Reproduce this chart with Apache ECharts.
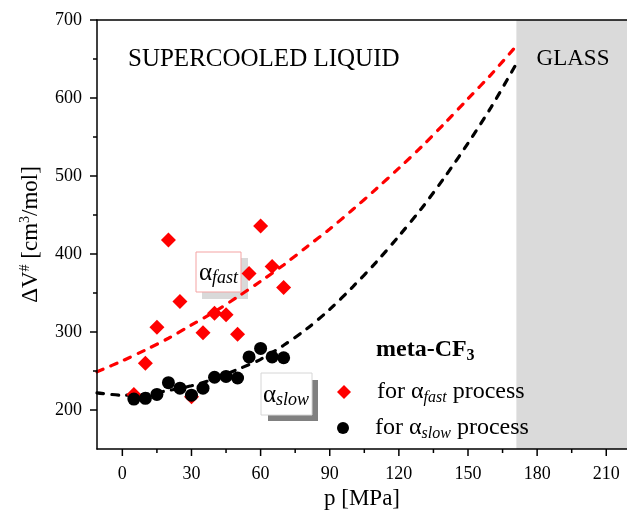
<!DOCTYPE html>
<html>
<head>
<meta charset="utf-8">
<script src="https://cdn.jsdelivr.net/npm/echarts@6/dist/echarts.min.js"></script>
<style>
  html, body { margin: 0; padding: 0; background: #fff; }
  #chart { width: 627px; height: 517px; }
</style>
</head>
<body>
<div id="chart"></div>
<script>
// Activation volume vs pressure, meta-CF3
const pressure = [5, 10, 15, 20, 25, 30, 35, 40, 45, 50, 55, 60, 65, 70];
const dvFast = [220, 260, 306, 418, 339, 217, 299, 324, 322, 297, 375, 436, 384, 357];
const dvSlow = [214, 215, 220, 235, 228, 219, 228, 242, 243, 241, 268, 279, 268, 267];

// Fitted curves (dashed), read along the pressure range
const fitP    = [-11, 0, 10, 20, 30, 40, 50, 60, 70, 80, 90, 100, 110, 120, 130, 140, 150, 160, 171];
const fitFast = [249, 263, 277, 292, 309, 326, 345, 365, 386, 409, 432, 457, 483, 510, 538, 568, 599, 630, 667];
const fitSlow = [222, 219, 220, 225, 231, 240, 252, 265, 283, 304, 329, 358, 389, 423, 459, 499, 542, 588, 644];

// Axis ticks
const xLabels = [0, 30, 60, 90, 120, 150, 180, 210];
const xMinor  = [15, 45, 75, 105, 135, 165, 195];
const yLabels = [200, 300, 400, 500, 600, 700];
const yMinor  = [250, 350, 450, 550, 650];

// Glassy region starts here (MPa)
const glassFrom = 171;

const SERIF = '"Liberation Serif", "Times New Roman", serif';
const X_MIN = -11, X_MAX = 219, Y_MIN = 150, Y_MAX = 700;
const MAJOR = 7, MINOR = 4;

const pairs = (xs, ys) => xs.map((x, i) => [x, ys[i]]);

const axisLine = { show: true, onZero: false, lineStyle: { color: '#000', width: 1.5 } };

const chart = echarts.init(document.getElementById('chart'), null, { renderer: 'canvas' });

const subRich = {
  g: { fontFamily: SERIF, fontSize: 24, color: '#000', lineHeight: 28 },
  t: { fontFamily: SERIF, fontSize: 24, color: '#000', lineHeight: 28 },
  s: { fontFamily: SERIF, fontSize: 16, fontStyle: 'italic', color: '#000', lineHeight: 16, verticalAlign: 'bottom' },
  sp: { width: 21 }
};

// Outward tick marks drawn through the axis scales
const xTickData = xLabels.map(v => [v, MAJOR]).concat(xMinor.map(v => [v, MINOR]));
const yTickData = yLabels.map(v => [v, MAJOR]).concat(yMinor.map(v => [v, MINOR]));
const tickLine = { stroke: '#000', lineWidth: 1.5 };

const dashed = color => ({ color: color, width: 3.2, type: [6.5, 8.5], cap: 'round' });

chart.setOption({
  animation: false,
  backgroundColor: '#fff',
  grid: { left: 97, top: 20, width: 530, height: 429, containLabel: false },
  xAxis: [
    {
      type: 'value', min: X_MIN, max: X_MAX, position: 'bottom', z: 10,
      axisLine: axisLine,
      axisTick: { show: false },
      axisLabel: { show: true, customValues: xLabels, margin: 16, fontSize: 18, fontFamily: SERIF, color: '#000' },
      splitLine: { show: false },
      name: 'p [MPa]', nameLocation: 'middle', nameGap: 36,
      nameTextStyle: { fontSize: 23, fontFamily: SERIF, color: '#000' }
    },
    {
      type: 'value', min: X_MIN, max: X_MAX, position: 'top', z: 10,
      axisLine: axisLine,
      axisTick: { show: false },
      axisLabel: { show: false },
      splitLine: { show: false }
    }
  ],
  yAxis: [
    {
      type: 'value', min: Y_MIN, max: Y_MAX, position: 'left', z: 10,
      axisLine: axisLine,
      axisTick: { show: false },
      axisLabel: { show: true, customValues: yLabels, margin: 15, fontSize: 18, fontFamily: SERIF, color: '#000' },
      splitLine: { show: false },
      name: 'ΔV{sup|#} [cm{sup|3}/mol]', nameLocation: 'middle', nameGap: 53, nameRotate: 90,
      nameTextStyle: {
        fontSize: 23, fontFamily: SERIF, color: '#000', lineHeight: 26,
        rich: {
          sup: { fontSize: 14, fontFamily: SERIF, color: '#000', lineHeight: 12, verticalAlign: 'top' }
        }
      }
    }
  ],
  legend: [
    {
      data: ['fast'], orient: 'vertical', left: 337, top: 380, padding: 0,
      itemWidth: 14, itemHeight: 14, selectedMode: false,
      formatter: () => '{sp|}{t|for }{g|α}{s|fast}{t| process}',
      textStyle: { fontFamily: SERIF, fontSize: 24, color: '#000', rich: subRich }
    },
    {
      data: ['slow'], orient: 'vertical', left: 337, top: 416, padding: 0,
      itemWidth: 12, itemHeight: 12, selectedMode: false,
      formatter: () => '{sp|}{t|for }{g|α}{s|slow}{t| process}',
      textStyle: { fontFamily: SERIF, fontSize: 24, color: '#000', rich: subRich }
    }
  ],
  graphic: [
    { type: 'text', x: 128, y: 59, z: 5,
      style: { text: 'SUPERCOOLED LIQUID', font: '25px ' + SERIF, fill: '#000', textAlign: 'left', textVerticalAlign: 'middle' } },
    { type: 'text', x: 573, y: 59, z: 5,
      style: { text: 'GLASS', font: '23px ' + SERIF, fill: '#000', textAlign: 'center', textVerticalAlign: 'middle' } },
    { type: 'text', x: 376, y: 350, z: 5,
      style: {
        text: '{b|meta-CF}{n|3}', textAlign: 'left', textVerticalAlign: 'middle',
        rich: {
          b: { fontFamily: SERIF, fontSize: 24, fontWeight: 'bold', color: '#000', lineHeight: 28 },
          n: { fontFamily: SERIF, fontSize: 16, fontWeight: 'bold', color: '#000', lineHeight: 16, verticalAlign: 'bottom' }
        }
      } },
    // α_fast tag
    { type: 'rect', z: 1, shape: { x: 202, y: 258, width: 46, height: 41 }, style: { fill: '#d9d9d9' } },
    { type: 'rect', z: 1, shape: { x: 196, y: 252, width: 45, height: 40 }, style: { fill: '#fff', stroke: '#f4a3a3', lineWidth: 1 } },
    { type: 'text', x: 199, y: 273, z: 1,
      style: {
        text: '{g|α}{s|fast}', textAlign: 'left', textVerticalAlign: 'middle',
        rich: {
          g: { fontFamily: SERIF, fontSize: 25, color: '#000', lineHeight: 28 },
          s: { fontFamily: SERIF, fontSize: 18, fontStyle: 'italic', color: '#000', lineHeight: 16, verticalAlign: 'bottom' }
        }
      } },
    // α_slow tag
    { type: 'rect', z: 1, shape: { x: 268, y: 380, width: 50, height: 41 }, style: { fill: '#808080' } },
    { type: 'rect', z: 1, shape: { x: 261, y: 373, width: 51, height: 42 }, style: { fill: '#fff', stroke: '#d6d6d6', lineWidth: 1 } },
    { type: 'text', x: 263, y: 395, z: 1,
      style: {
        text: '{g|α}{s|slow}', textAlign: 'left', textVerticalAlign: 'middle',
        rich: {
          g: { fontFamily: SERIF, fontSize: 25, color: '#000', lineHeight: 28 },
          s: { fontFamily: SERIF, fontSize: 18, fontStyle: 'italic', color: '#000', lineHeight: 16, verticalAlign: 'bottom' }
        }
      } }
  ],
  series: [
    {
      name: 'glass', type: 'line', data: [], silent: true,
      markArea: {
        silent: true,
        itemStyle: { color: '#dadada' },
        data: [[{ xAxis: glassFrom }, { xAxis: X_MAX }]]
      }
    },
    {
      name: 'xTicks', type: 'custom', data: xTickData, silent: true, clip: false, z: 10,
      encode: { x: 0, y: -1 },
      renderItem: (params, api) => {
        const p = api.coord([api.value(0), Y_MIN]);
        return { type: 'line', shape: { x1: p[0], y1: p[1], x2: p[0], y2: p[1] + api.value(1) }, style: tickLine };
      }
    },
    {
      name: 'yTicks', type: 'custom', data: yTickData, silent: true, clip: false, z: 10,
      encode: { x: -1, y: 0 },
      renderItem: (params, api) => {
        const p = api.coord([X_MIN, api.value(0)]);
        return { type: 'line', shape: { x1: p[0], y1: p[1], x2: p[0] - api.value(1), y2: p[1] }, style: tickLine };
      }
    },
    {
      name: 'fitFast', type: 'line', data: pairs(fitP, fitFast), smooth: 0.3,
      showSymbol: false, silent: true, z: 3,
      lineStyle: dashed('#ff0000')
    },
    {
      name: 'fitSlow', type: 'line', data: pairs(fitP, fitSlow), smooth: 0.3,
      showSymbol: false, silent: true, z: 3,
      lineStyle: dashed('#000')
    },
    {
      name: 'fast', type: 'scatter', data: pairs(pressure, dvFast), z: 4,
      symbol: 'diamond', symbolSize: 15, itemStyle: { color: '#ff0000', opacity: 1 }
    },
    {
      name: 'slow', type: 'scatter', data: pairs(pressure, dvSlow), z: 5,
      symbol: 'circle', symbolSize: 13, itemStyle: { color: '#000', opacity: 1 }
    }
  ]
});
</script>
</body>
</html>
